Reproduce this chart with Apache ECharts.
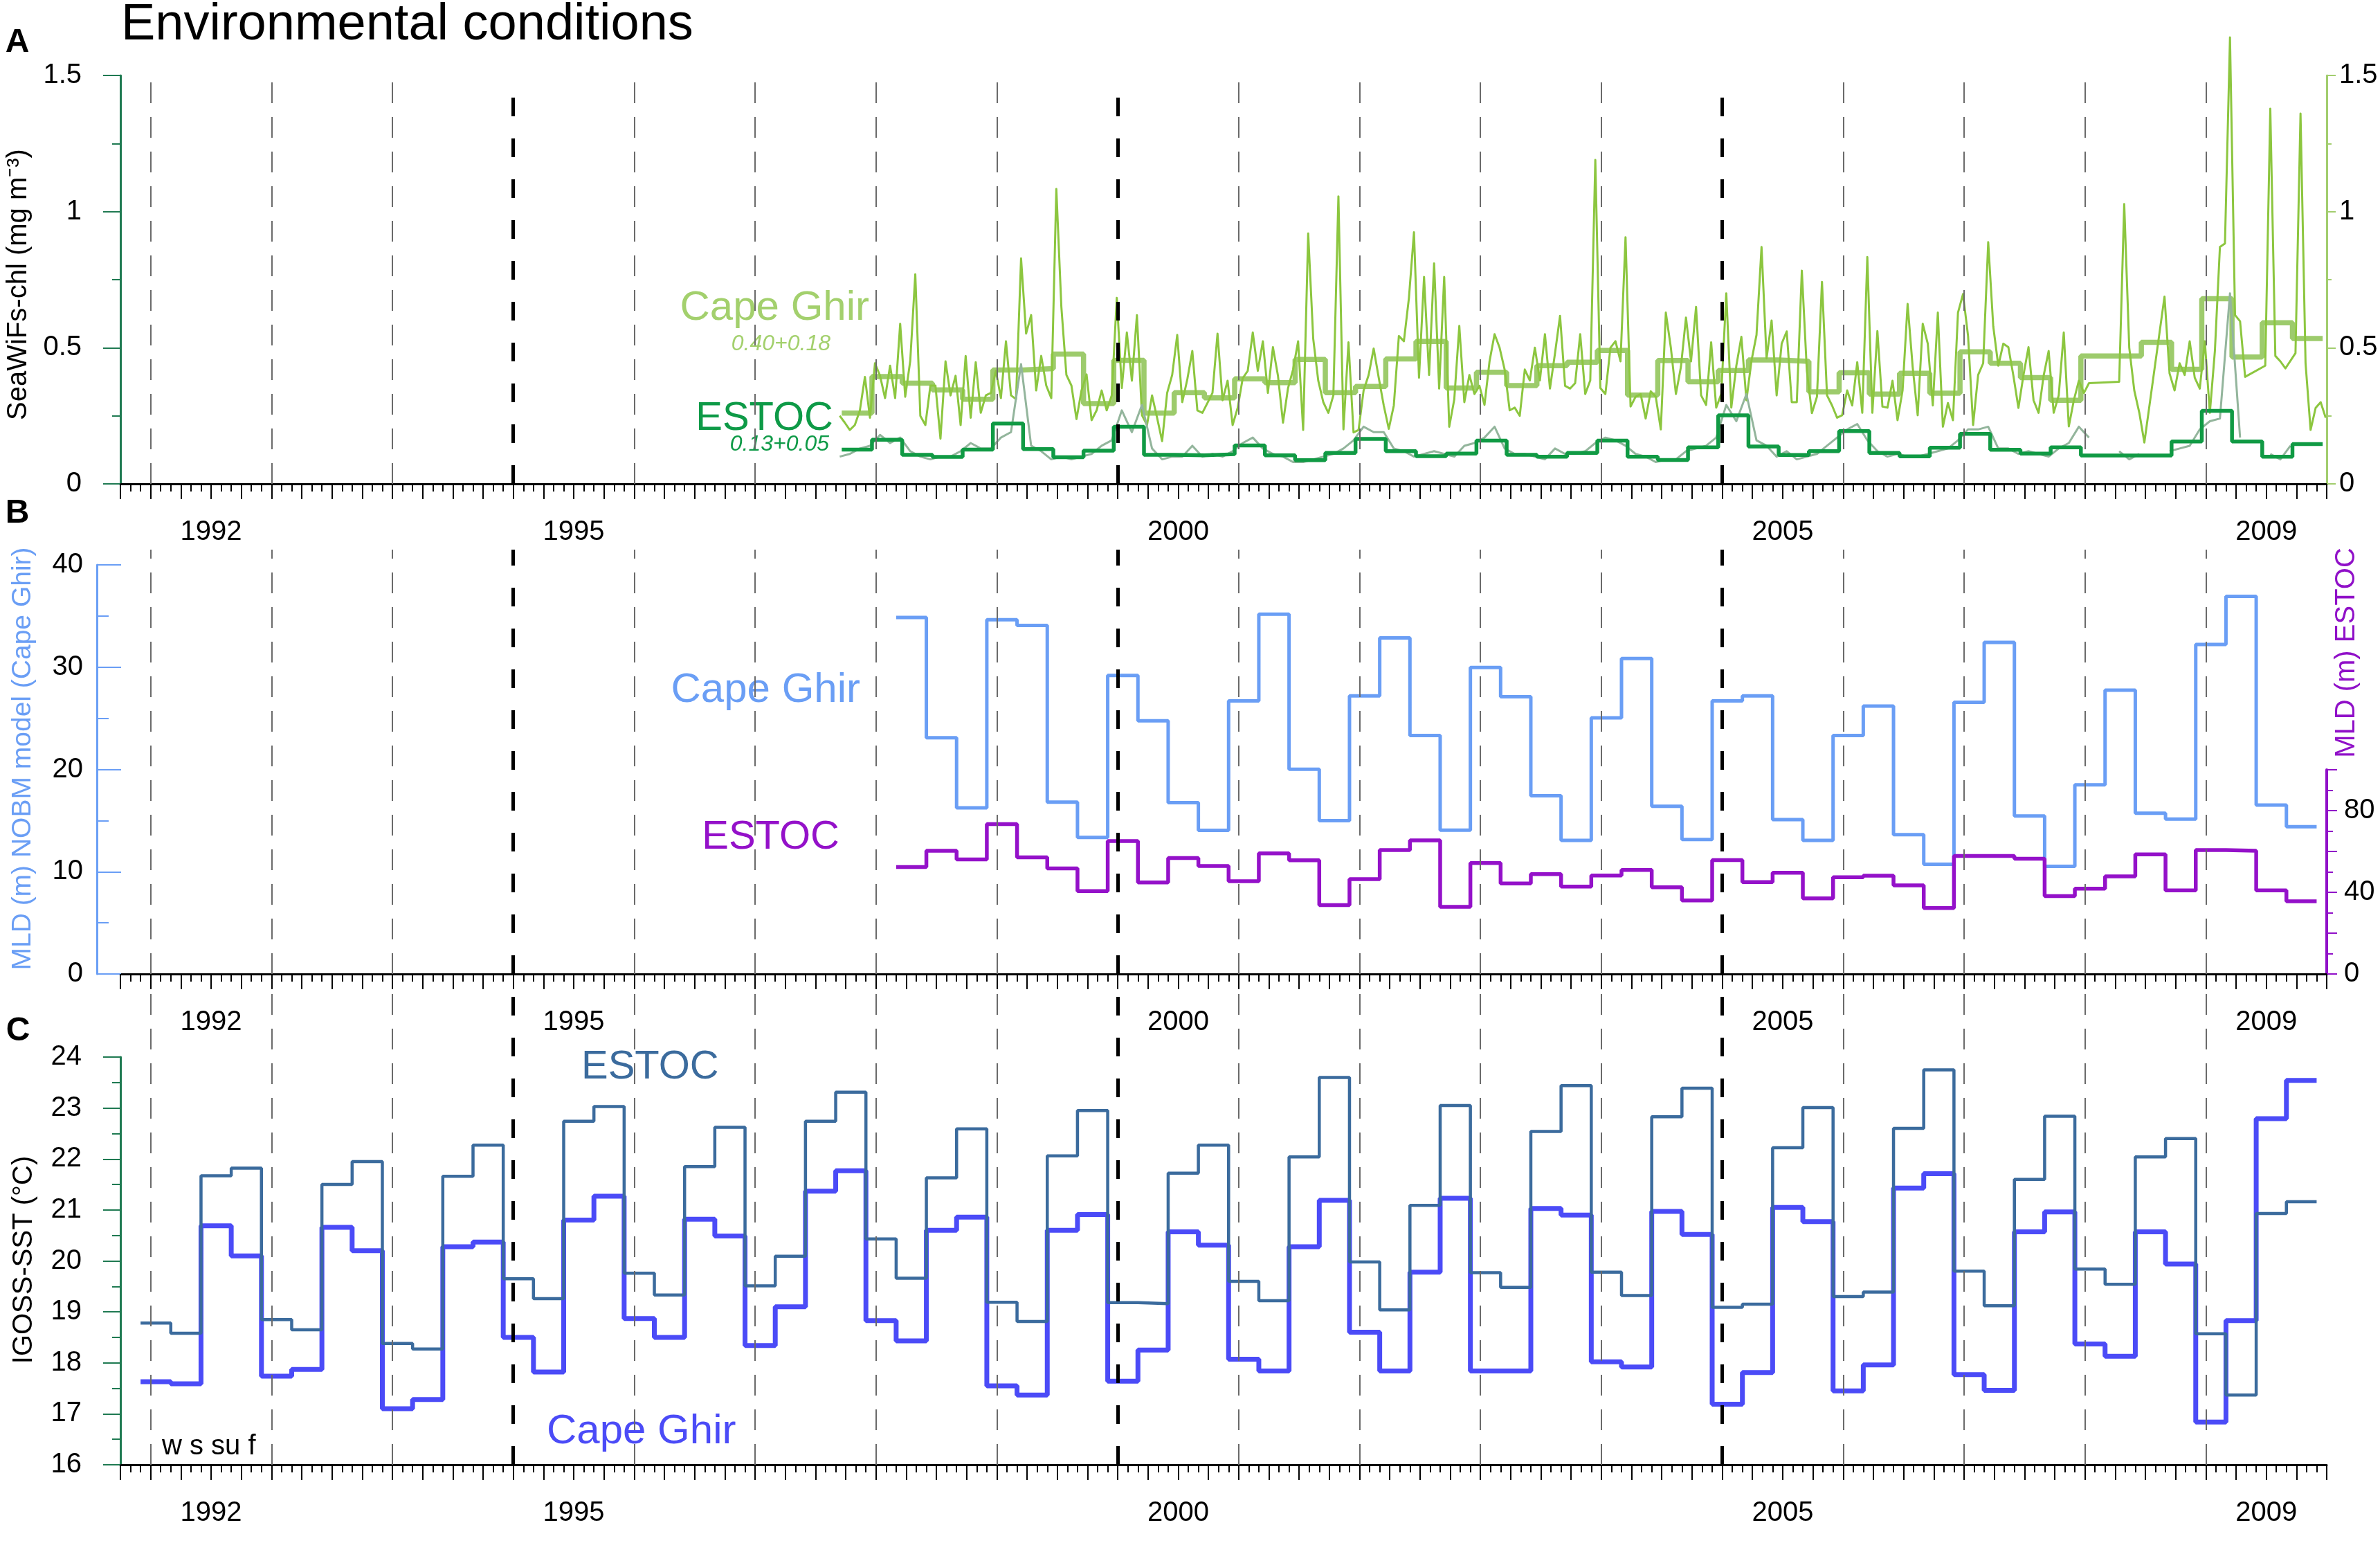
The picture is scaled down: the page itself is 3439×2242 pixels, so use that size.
<!DOCTYPE html>
<html>
<head>
<meta charset="utf-8">
<title>Environmental conditions</title>
<script src="https://cdn.jsdelivr.net/npm/echarts@6/dist/echarts.min.js"></script>
<style>
html, body { margin: 0; padding: 0; background: #fff; }
#main { width: 3439px; height: 2242px; }
</style>
</head>
<body>
<div id="main"></div>
<script>
// time axis, decimal years
var xMin = 1991.75, xMax = 2010;
var labelYears = [1992, 1995, 2000, 2005, 2009];
var yearLines = [1992, 1993, 1994, 1996, 1997, 1998, 1999, 2001, 2002, 2003, 2004, 2006, 2007, 2008, 2009];
var boldLines = [1995, 2000, 2005];

// seasons: w = Dec-Feb, s = Mar-May, su = Jun-Aug, f = Sep-Nov ; index 0 = winter 1992
var seasonOrigin = 1991 + 11 / 12;
var chlShift = 0.05;
var firstChlSeason = 23;   // fall 1997
var firstMldSeason = 25;   // spring 1998

// C: IGOSS SST, seasonal means, w92 .. f09
var sstEstoc = [
  18.78, 18.58, 21.67, 21.82,
  18.85, 18.65, 21.50, 21.95,
  18.38, 18.27, 21.66, 22.27,
  19.65, 19.26, 22.74, 23.03,
  19.76, 19.33, 21.85, 22.62,
  19.51, 20.09, 22.74, 23.31,
  20.43, 19.66, 21.63, 22.59,
  19.19, 18.81, 22.06, 22.95,
  19.18, 19.16, 21.72, 22.27,
  19.60, 19.22, 22.04, 23.60,
  19.98, 19.04, 21.09, 23.05,
  19.77, 19.48, 22.54, 23.44,
  19.78, 19.32, 22.83, 23.39,
  19.09, 19.15, 22.22, 23.01,
  19.30, 19.39, 22.60, 23.75,
  19.80, 19.12, 21.60, 22.84,
  19.84, 19.54, 22.04, 22.40,
  18.57, 17.37, 20.93, 21.16
];
var sstGhir = [
  17.63, 17.59, 20.69, 20.10,
  17.74, 17.87, 20.66, 20.20,
  17.10, 17.28, 20.28, 20.37,
  18.50, 17.82, 20.80, 21.27,
  18.87, 18.50, 20.82, 20.49,
  18.34, 19.10, 21.37, 21.77,
  18.83, 18.43, 20.60, 20.86,
  17.55, 17.37, 20.60, 20.91,
  17.64, 18.25, 20.57, 20.31,
  18.07, 17.84, 20.28, 21.19,
  18.60, 17.84, 19.78, 21.23,
  17.84, 17.84, 21.03, 20.90,
  18.02, 17.92, 20.97, 20.52,
  17.19, 17.81, 21.05, 20.77,
  17.45, 17.96, 21.43, 21.71,
  17.77, 17.46, 20.57, 20.96,
  18.37, 18.13, 20.57, 19.94,
  16.84, 18.83, 22.79, 23.54
];

// B: mixed layer depth, seasonal, s98 .. f09
var mldGhir = [
  34.85, 23.10, 16.25,
  34.63, 34.08, 16.80, 13.35,
  29.18, 24.76, 16.75, 14.04,
  26.70, 35.18, 20.01, 15.00,
  27.19, 32.86, 23.32, 14.06,
  29.96, 27.11, 17.43, 13.07,
  25.04, 30.84, 16.39, 13.15,
  26.70, 27.19, 15.09, 13.07,
  23.32, 26.20, 13.62, 10.72,
  26.56, 32.42, 15.45, 10.53,
  18.49, 27.75, 15.72, 15.14,
  32.22, 36.92, 16.52, 14.40
];
var mldEstoc = [
  52.4, 60.3, 56.1,
  73.4, 57.1, 51.7, 40.6,
  65.1, 44.8, 56.8, 52.9,
  45.4, 59.1, 55.7, 33.7,
  46.4, 60.7, 65.4, 32.9,
  54.3, 44.3, 48.9, 42.8,
  48.2, 50.9, 42.5, 36.0,
  55.8, 45.0, 49.6, 37.0,
  47.4, 48.1, 43.4, 32.3,
  57.8, 57.8, 56.4, 38.1,
  41.8, 47.8, 58.6, 40.9,
  60.7, 60.3, 40.9, 35.6
];

// A: SeaWiFS chlorophyll, seasonal means, f97 .. f09
var chlGhirSeason = [
  0.260,
  0.394, 0.370, 0.345, 0.311,
  0.418, 0.423, 0.477, 0.295,
  0.454, 0.260, 0.335, 0.316,
  0.386, 0.372, 0.457, 0.335,
  0.358, 0.459, 0.523, 0.352,
  0.410, 0.361, 0.434, 0.447,
  0.490, 0.326, 0.453, 0.375,
  0.416, 0.455, 0.450, 0.338,
  0.408, 0.330, 0.406, 0.333,
  0.485, 0.443, 0.390, 0.307,
  0.470, 0.470, 0.520, 0.421,
  0.680, 0.466, 0.592, 0.534
];
var chlEstocSeason = [
  0.126,
  0.162, 0.107, 0.099, 0.126,
  0.222, 0.128, 0.098, 0.122,
  0.210, 0.107, 0.105, 0.109,
  0.141, 0.105, 0.087, 0.114,
  0.165, 0.120, 0.102, 0.111,
  0.159, 0.107, 0.100, 0.114,
  0.159, 0.100, 0.088, 0.134,
  0.252, 0.137, 0.106, 0.120,
  0.194, 0.114, 0.101, 0.133,
  0.184, 0.125, 0.111, 0.134,
  0.104, 0.104, 0.104, 0.156,
  0.268, 0.156, 0.100, 0.146
];

// A: chlorophyll composites, Cape Ghir twice a month, ESTOC monthly, from Sep 1997
var rawStart = 1997.70;
var chlGhirRaw = [
  .25, .225, .198, .216, .27, .393, .243, .443, .397, .315, .434, .315, .588, .32, .452, .77, .25, .216, .361, .361, .166, .45, .325, .397,
  .216, .47, .243, .447, .261, .325, .334, .415, .315, .524, .325, .311, .828, .552, .62, .343, .47, .361, .315, 1.083, .65, .40, .361, .238,
  .343, .402, .234, .27, .343, .27, .325, .683, .352, .556, .379, .62, .252, .216, .325, .243, .157, .334, .40, .547, .30, .384, .488, .27,
  .261, .297, .334, .552, .307, .379, .216, .279, .388, .415, .556, .415, .524, .334, .502, .397, .225, .352, .42, .524, .198, .92, .533, .379,
  .30, .261, .325, 1.056, .20, .52, .189, .198, .343, .40, .497, .39, .288, .202, .288, .543, .524, .683, .924, .39, .76, .40, .81, .35,
  .76, .21, .31, .58, .30, .40, .33, .36, .29, .45, .55, .50, .42, .27, .28, .25, .42, .38, .50, .38, .55, .35, .48, .617,
  .36, .35, .37, .55, .33, .38, 1.19, .352, .33, .50, .524, .45, .906, .284, .32, .33, .24, .34, .32, .20, .629, .50, .33, .43,
  .611, .45, .65, .325, .29, .52, .28, .33, .70, .28, .434, .54, .307, .452, .547, .87, .461, .60, .325, .515, .56, .30, .30, .783,
  .415, .26, .32, .742, .325, .288, .243, .252, .343, .288, .447, .261, .833, .261, .561, .284, .28, .379, .234, .343, .661, .43, .252, .588,
  .515, .288, .629, .21, .297, .234, .629, .697, .543, .216, .40, .443, .888, .579, .434, .515, .502, .397, .279, .40, .502, .307, .261, .397,
  .488, .261, .325, .556, .211, .307, .379, .334, .37, null, null, null, null, null, .375, 1.028, .50, .343, .261, .152, null, null, null, .688,
  .406, .343, .443, .40, .524, .39, .35, .524, .261, .488, .87, .883, 1.64, .62, .597, .393, null, null, null, .434, 1.378, .47, .45, .424,
  null, .48, 1.36, .443, .198, .279, .30, .243
];
var chlEstocRaw = [
  .10, .11, .13, .14, .18, .15, .17, .12, .10, .09, .10, .10,
  .12, .15, .13, .13, .17, .19, .44, .14, .12, .09, .10, .09,
  .10, .11, .14, .16, .27, .19, .29, .13, .09, .10, .10, .14,
  .10, .11, .10, .12, .15, .17, .13, .11, .10, .08, .08, .09,
  .10, .11, .13, .16, .21, .19, .19, .13, .12, .10, .11, .12,
  .11, .10, .14, .15, .17, .21, .13, .11, .11, .10, .09, .13,
  .11, .11, .12, .15, .17, .16, .14, .11, .10, .08, .09, .09,
  .12, .13, .14, .17, .29, .23, .33, .16, .14, .10, .12, .09,
  .10, .11, .14, .17, .20, .22, .16, .12, .10, .11, .10, .10,
  .11, .12, .13, .16, .20, .20, .21, .13, .13, .11, .12, .11,
  .10, .13, .15, .21, .17, null, null, .12, .09, .11, null, null,
  .12, .13, .14, .20, .23, .24, .70, .17, null, null, .11, .09,
  .14
];

var FONT = 'Liberation Sans, Arial, Helvetica, sans-serif';
var darkGreen = '#1f7a52';

function seasonSteps(values, first, shift) {
  var out = [];
  for (var k = 0; k < values.length; k++) {
    out.push([seasonOrigin + (first + k) * 0.25 + shift, values[k]]);
  }
  out.push([seasonOrigin + (first + values.length) * 0.25 + shift, values[values.length - 1]]);
  return out;
}
function regular(values, start, step) {
  return values.map(function (v, i) { return [start + i * step, v]; });
}

function timeAxis(grid, show) {
  return {
    type: 'value', gridIndex: grid, min: xMin, max: xMax, interval: 0.25, show: show,
    axisLine: { show: true, onZero: false, lineStyle: { color: '#000', width: 3 } },
    axisTick: { show: true, length: 22, lineStyle: { color: '#000', width: 2 } },
    minorTick: { show: true, splitNumber: 3, length: 11, lineStyle: { color: '#000', width: 2 } },
    splitLine: { show: false },
    axisLabel: {
      margin: 50, fontSize: 40, color: '#000', fontFamily: FONT,
      formatter: function (v) {
        for (var i = 0; i < labelYears.length; i++) {
          if (Math.abs(v - labelYears[i] - 0.5) < 1e-6) return String(labelYears[i]);
        }
        return '';
      }
    }
  };
}
function valueAxis(o) {
  var a = {
    type: 'value', gridIndex: o.grid, min: o.min, max: o.max, interval: o.interval,
    position: o.position, offset: o.offset || 0,
    axisLine: { show: true, onZero: false, lineStyle: { color: o.color, width: o.lineWidth || 3 } },
    axisTick: { show: true, inside: !!o.inside, length: o.tick, lineStyle: { color: o.color, width: 2 } },
    minorTick: { show: true, splitNumber: 2, length: o.minor, lineStyle: { color: o.color, width: 2 } },
    splitLine: { show: false },
    axisLabel: { margin: o.margin, fontSize: 40, color: '#000', fontFamily: FONT }
  };
  if (o.formatter) a.axisLabel.formatter = o.formatter;
  return a;
}
function hiddenY(grid) {
  return { type: 'value', gridIndex: grid, min: 0, max: 1, show: false, splitLine: { show: false } };
}
function dashLines(axis, years, color, width, dash) {
  return {
    type: 'line', xAxisIndex: axis, yAxisIndex: axis + 1, data: [], silent: true,
    markLine: {
      silent: true, symbol: ['none', 'none'], animation: false,
      label: { show: false },
      lineStyle: { color: color, width: width, type: dash },
      emphasis: { disabled: true },
      data: years.map(function (y) { return { xAxis: y }; })
    }
  };
}
function stepLine(name, data, xi, yi, color, width) {
  return {
    name: name, type: 'line', step: 'end', data: data, xAxisIndex: xi, yAxisIndex: yi,
    showSymbol: false, silent: true, lineStyle: { color: color, width: width }
  };
}
function rawLine(name, data, color, width, connect) {
  return {
    name: name, type: 'line', data: data, xAxisIndex: 0, yAxisIndex: 0,
    showSymbol: false, silent: true, connectNulls: connect, clip: false,
    lineStyle: { color: color, width: width, join: 'round' }
  };
}
function label(text, x, y, size, color, align, extra) {
  var st = {
    text: text, fontSize: size, fontFamily: FONT, fill: color,
    align: align, textAlign: align, verticalAlign: 'middle', textVerticalAlign: 'middle'
  };
  for (var k in (extra || {})) st[k] = extra[k];
  return { type: 'text', x: x, y: y, silent: true, style: st };
}
function vlabel(text, x, y, size, color) {
  var g = label(text, x, y, size, color, 'center');
  g.rotation = Math.PI / 2;
  return g;
}

var myChart = echarts.init(document.getElementById('main'), null, { renderer: 'canvas' });

var option = {
  animation: false,
  backgroundColor: '#fff',
  textStyle: { fontFamily: FONT },
  grid: [
    { left: 174, top: 109, width: 3188, height: 590 },   // A
    { left: 174, top: 816, width: 3188, height: 591 },   // B
    { left: 174, top: 1112, width: 3188, height: 295 },  // B, ESTOC axis
    { left: 174, top: 1527, width: 3188, height: 589 },  // C
    { left: 174, top: 109, width: 3188, height: 590 },   // year lines A
    { left: 174, top: 794, width: 3188, height: 613 },   // year lines B
    { left: 174, top: 1432, width: 3188, height: 684 }   // year lines C
  ],
  xAxis: [
    timeAxis(0, true), timeAxis(1, true), timeAxis(2, false), timeAxis(3, true),
    timeAxis(4, false), timeAxis(5, false), timeAxis(6, false)
  ],
  yAxis: [
    valueAxis({ grid: 0, min: 0, max: 1.5, interval: 0.5, position: 'left', color: darkGreen, tick: 25, minor: 12, margin: 56 }),
    valueAxis({ grid: 0, min: 0, max: 1.5, interval: 0.5, position: 'right', color: '#a2cd6e', tick: 13, minor: 7, margin: 18 }),
    valueAxis({ grid: 1, min: 0, max: 40, interval: 10, position: 'left', offset: 34, color: '#6a9ef5', inside: true, tick: 35, minor: 17, margin: 20 }),
    valueAxis({ grid: 2, min: 0, max: 100, interval: 20, position: 'right', color: '#9010c8', lineWidth: 4, tick: 15, minor: 9, margin: 25,
      formatter: function (v) { return v % 40 === 0 ? String(v) : ''; } }),
    valueAxis({ grid: 3, min: 16, max: 24, interval: 1, position: 'left', color: darkGreen, tick: 25, minor: 12, margin: 56 }),
    hiddenY(4), hiddenY(5), hiddenY(6)
  ],
  series: []
};

// the year lines use xAxis i and yAxis i + 1 (hidden grids 4..6)
option.series.push(dashLines(4, yearLines, '#6a6a6a', 2, [30, 20]));
option.series.push(dashLines(5, yearLines, '#6a6a6a', 2, [30, 20]));
option.series.push(dashLines(6, yearLines, '#6a6a6a', 2, [30, 20]));

// A
option.series.push(stepLine('Cape Ghir seasonal', seasonSteps(chlGhirSeason, firstChlSeason, chlShift), 0, 0, '#9dcb6c', 7.5));
option.series.push(rawLine('Cape Ghir', regular(chlGhirRaw, rawStart, 1 / 24), '#8cc63f', 3, true));
option.series.push(rawLine('ESTOC', regular(chlEstocRaw, rawStart, 1 / 12), '#93b59c', 3, false));
option.series.push(stepLine('ESTOC seasonal', seasonSteps(chlEstocSeason, firstChlSeason, chlShift), 0, 0, '#109a44', 5.5));

// B
option.series.push(stepLine('MLD Cape Ghir', seasonSteps(mldGhir, firstMldSeason, 0), 1, 2, '#6a9ef5', 5));
option.series.push(stepLine('MLD ESTOC', seasonSteps(mldEstoc, firstMldSeason, 0), 2, 3, '#9411c9', 5.5));

// C
option.series.push(stepLine('SST Cape Ghir', seasonSteps(sstGhir, 0, 0), 3, 4, '#4b4bf7', 7));
option.series.push(stepLine('SST ESTOC', seasonSteps(sstEstoc, 0, 0), 3, 4, '#3b6b9d', 4.5));

option.series.push(dashLines(4, boldLines, '#000', 5, [27, 32]));
option.series.push(dashLines(5, boldLines, '#000', 5, [27, 32]));
option.series.push(dashLines(6, boldLines, '#000', 5, [27, 32]));

option.graphic = [
  label('Environmental conditions', 175, 37, 74, '#000', 'left'),
  label('A', 25, 62, 48, '#000', 'center', { fontWeight: 'bold' }),
  label('B', 25, 742, 48, '#000', 'center', { fontWeight: 'bold' }),
  label('C', 26, 1490, 48, '#000', 'center', { fontWeight: 'bold' }),

  label('Cape Ghir', 1256, 445, 60, '#a3d06d', 'right'),
  label('0.40+0.18', 1200, 497, 32, '#a3d06d', 'right', { fontStyle: 'italic' }),
  label('ESTOC', 1204, 605, 58, '#0e9a47', 'right'),
  label('0.13+0.05', 1198, 642, 32, '#0e9a47', 'right', { fontStyle: 'italic' }),

  label('Cape Ghir', 1243, 997, 60, '#6a9ef5', 'right'),
  label('ESTOC', 1213, 1210, 58, '#9411c9', 'right'),

  label('ESTOC', 840, 1542, 58, '#3b6b9d', 'left'),
  label('Cape Ghir', 790, 2068, 60, '#4b4bf7', 'left'),
  label('w s su f', 234, 2090, 40, '#000', 'left'),

  vlabel('SeaWiFs-chl (mg m\u207B\u00B3)', 27, 411, 40, '#000'),
  vlabel('MLD (m) NOBM model (Cape Ghir)', 33, 1096, 39, '#6a9ef5'),
  vlabel('MLD (m) ESTOC', 3391, 943, 40, '#9010c8'),
  vlabel('IGOSS-SST (\u00B0C)', 35, 1820, 40, '#000')
];

myChart.setOption(option);
</script>
</body>
</html>
